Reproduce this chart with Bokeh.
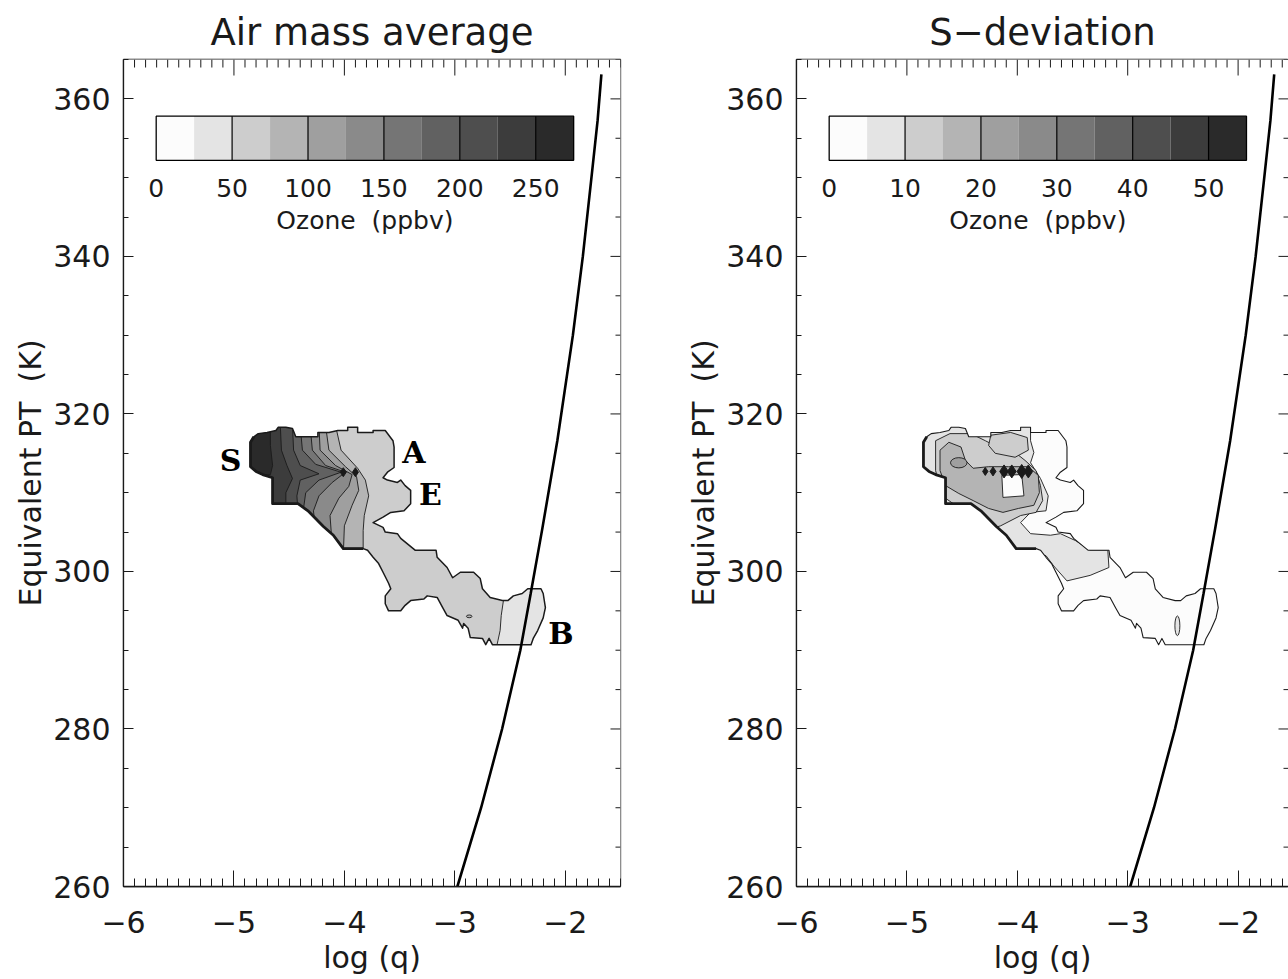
from bokeh.plotting import figure
from bokeh.layouts import row
from bokeh.models import FixedTicker, CustomJSTickFormatter, Range1d
from bokeh.core.properties import value
from bokeh.embed import file_html
from bokeh.resources import INLINE

FONT = "DejaVu Sans"
INK = "#1a1a1a"

# ---------------- axes / ticks ----------------
X_MAJOR = [-6, -5, -4, -3, -2]
X_MINOR = [round(-6 + 0.1 * i, 2) for i in range(46)]
Y_MAJOR = [260, 280, 300, 320, 340, 360]
Y_MINOR = list(range(260, 366, 5))
TITLES = ["Air mass average", "S\u2212deviation"]
X_LABEL = "log (q)"
Y_LABEL = "Equivalent PT\u00a0 (K)"

# ---------------- colour scale ----------------
SHADES = ["#fcfcfc", "#e4e4e4", "#cdcdcd", "#b4b4b4", "#9f9f9f", "#8a8a8a",
          "#757575", "#616161", "#4e4e4e", "#3c3c3c", "#2a2a2a"]
CB_LABELS_L = [0, 50, 100, 150, 200, 250]
CB_MAX_L = 275
CB_LABELS_R = [0, 10, 20, 30, 40, 50]
CB_MAX_R = 55
CB_TITLE = "Ozone\u00a0 (ppbv)"

# ---------------- saturation curve ----------------
CURVE_THETA = [260, 270, 280, 290, 297.2, 305.5, 316.6, 330, 340, 350, 357.3, 363.1]
CURVE_LOGQ = [-2.977, -2.762, -2.572, -2.407, -2.313, -2.207, -2.072, -1.931,
              -1.841, -1.763, -1.707, -1.673]

# ---------------- air-mass outline (log q, theta_e) ----------------
OUT_X = [-4.85, -4.85, -4.82, -4.78, -4.70, -4.62, -4.60, -4.53, -4.47, -4.44,
         -4.24, -4.24, -4.14, -4.06, -3.97, -3.97, -3.88, -3.88, -3.74, -3.74,
         -3.63, -3.56, -3.55, -3.55, -3.61, -3.65, -3.61, -3.52, -3.49, -3.45,
         -3.40, -3.40, -3.46, -3.58, -3.65, -3.74, -3.65, -3.63, -3.52, -3.49,
         -3.36, -3.17, -3.16, -3.07, -3.02, -2.95, -2.83, -2.77, -2.75, -2.68,
         -2.57, -2.52, -2.47, -2.39, -2.34, -2.22, -2.20, -2.18, -2.20, -2.25,
         -2.29, -2.31, -2.66, -2.69, -2.72, -2.75, -2.86, -2.88, -2.92, -2.93,
         -2.97, -3.07, -3.11, -3.16, -3.25, -3.28, -3.40, -3.45, -3.49, -3.60,
         -3.63, -3.63, -3.58, -3.60, -3.65, -3.69, -3.74, -3.79, -3.83, -4.01,
         -4.10, -4.19, -4.33, -4.42, -4.65, -4.65, -4.74, -4.80]
OUT_Y = [313.3, 316.4, 317.1, 317.5, 317.65, 317.9, 318.3, 318.3, 318.15, 317.1,
         317.1, 317.65, 317.65, 317.9, 317.9, 318.3, 318.3, 317.65, 317.65, 317.9,
         317.9, 316.6, 315.8, 313.2, 312.6, 311.9, 311.6, 311.3, 311.6, 310.9,
         310.3, 308.6, 307.7, 307.5, 306.9, 306.2, 305.6, 305.0, 304.8, 304.2,
         302.7, 302.7, 301.8, 300.5, 299.2, 299.9, 299.9, 299.1, 297.8, 296.7,
         296.3, 296.3, 296.9, 297.2, 297.8, 297.8, 297.2, 295.4, 294.1, 292.5,
         291.5, 290.7, 290.7, 291.5, 290.7, 291.5, 291.6, 292.8, 293.4, 292.8,
         293.8, 294.4, 295.4, 296.7, 296.9, 296.5, 296.3, 295.7, 295.0, 295.0,
         295.9, 296.9, 297.8, 298.5, 299.9, 301.0, 301.8, 302.7, 302.9, 302.9,
         304.6, 305.7, 307.7, 308.6, 308.6, 311.9, 312.3, 312.7]

# ---------------- left panel: ozone contour lines (darker side = left) ----------------
L_LEVELS = [75, 100, 125, 150, 175, 200, 225, 250]
C075_X = [-4.08, -4.03, -3.88, -3.81, -3.78, -3.82, -3.83, -3.83]
C075_Y = [318.5, 315.4, 313.1, 311.6, 309.6, 307.1, 305.2, 302.0]
C100_X = [-4.17, -4.14, -3.99, -3.89, -3.87, -3.93, -4.00, -4.01]
C100_Y = [318.5, 315.4, 313.3, 312.05, 310.3, 308.4, 305.8, 302.0]
C125_X = [-4.23, -4.22, -4.08, -3.93, -3.96, -4.05, -4.13, -4.11]
C125_Y = [318.5, 315.4, 313.45, 312.3, 310.8, 309.3, 307.1, 303.3]
C150_X = [-4.31, -4.29, -4.17, -3.99, -4.11, -4.23, -4.28, -4.26]
C150_Y = [318.5, 315.4, 313.45, 312.6, 311.3, 309.6, 307.7, 305.2]
C175_X = [-4.40, -4.38, -4.26, -4.03, -4.23, -4.35, -4.37, -4.35]
C175_Y = [318.5, 315.4, 313.6, 312.6, 311.6, 310.0, 308.0, 306.5]
C200_X = [-4.47, -4.46, -4.40, -4.23, -4.40, -4.43, -4.42]
C200_Y = [318.5, 315.4, 313.45, 312.4, 311.6, 309.6, 307.5]
C225_X = [-4.58, -4.57, -4.52, -4.47, -4.53, -4.53]
C225_Y = [318.5, 315.4, 313.45, 311.8, 310.0, 307.5]
C250_X = [-4.67, -4.67, -4.65, -4.67, -4.94]
C250_Y = [318.5, 316.0, 313.45, 312.3, 312.05]
L_LINES_X = [C075_X, C100_X, C125_X, C150_X, C175_X, C200_X, C225_X, C250_X]
L_LINES_Y = [C075_Y, C100_Y, C125_Y, C150_Y, C175_Y, C200_Y, C225_Y, C250_Y]
# boundary of the lighter (25-50 ppbv) tip, lighter side = right
CB050_X = [-2.55, -2.56, -2.58, -2.59, -2.61, -2.63]
CB050_Y = [298.2, 296.3, 294.4, 292.5, 291.2, 289.9]
L_SPOT_X, L_SPOT_Y = [-2.87], [294.3]
L_DIAM_X = [-4.01, -3.90]
L_DIAM_Y = [312.6, 312.6]
LETTERS = ["S", "A", "E", "B"]
LETTER_X = [-5.03, -3.37, -3.22, -2.04]
LETTER_Y = [314.1, 315.1, 309.8, 292.1]

# ---------------- right panel: standard deviation regions ----------------
R1_X = [-4.94, -3.88, -3.88, -3.85, -3.88, -3.79, -3.72, -3.74, -3.88, -3.97, -3.88,
        -3.70, -3.61, -3.47, -3.34, -3.18, -3.17, -3.34, -3.55, -3.67, -3.74, -3.88,
        -4.06, -4.24, -4.42, -4.94]
R1_Y = [319.2, 319.2, 316.6, 315.1, 313.8, 311.8, 309.6, 307.7, 307.5, 306.2, 304.8,
        304.6, 304.8, 303.9, 302.7, 302.7, 300.5, 299.5, 298.8, 300.7, 302.0, 302.4,
        302.9, 303.3, 303.9, 303.9]
R2_X = [-4.74, -4.61, -4.42, -4.29, -4.15, -4.02, -3.93, -3.83, -3.79, -3.77, -3.83,
        -3.97, -4.15, -4.29, -4.42, -4.56, -4.68, -4.74]
R2_Y = [316.6, 317.5, 317.5, 316.6, 315.6, 315.1, 314.1, 312.8, 310.9, 309.0, 307.5,
        307.1, 305.8, 305.2, 306.5, 308.4, 309.6, 312.8]
R2B_X = [-4.24, -4.06, -3.91, -3.90, -4.02, -4.20, -4.26]
R2B_Y = [317.3, 317.65, 317.0, 315.4, 314.5, 315.0, 316.0]
R3_X = [-4.70, -4.62, -4.51, -4.47, -4.40, -4.26, -4.08, -3.90, -3.81, -3.80, -3.85,
        -3.99, -4.13, -4.26, -4.40, -4.53, -4.65, -4.70]
R3_Y = [315.4, 316.4, 315.8, 314.1, 313.1, 313.3, 313.3, 313.3, 312.2, 310.0, 308.4,
        308.0, 307.5, 308.0, 309.0, 309.9, 310.9, 312.8]
R0_X = [-4.14, -3.96, -3.94, -4.13]
R0_Y = [312.2, 312.3, 309.6, 309.4]
R_SPOT_X, R_SPOT_Y = [-4.53, -2.55], [313.8, 293.1]
R_DIAM_X = [-4.29, -4.22, -4.12, -4.05, -3.96, -3.90]
R_DIAM_Y = [312.7, 312.7, 312.7, 312.7, 312.7, 312.7]

# colour-bar placement inside the frame (log q / theta units)
CB_X0, CB_X1, CB_Y0, CB_Y1 = -5.704, -1.924, 352.2, 357.8
CB_NUM_Y, CB_TITLE_Y = 348.7, 344.5

# tick lengths in pixels and the pixel scale of the frames
X_TICK_MAJ, X_TICK_MIN, Y_TICK_MAJ, Y_TICK_MIN = 16, 8, 10, 5
PX_PER_K = 827 / 105.0
PX_PER_DEX = 110.4


def style_axis(ax, is_x):
    ax.ticker = FixedTicker(ticks=X_MAJOR if is_x else Y_MAJOR,
                            minor_ticks=X_MINOR if is_x else Y_MINOR)
    ax.major_tick_in = X_TICK_MAJ if is_x else Y_TICK_MAJ
    ax.minor_tick_in = X_TICK_MIN if is_x else Y_TICK_MIN
    ax.major_tick_out = 0
    ax.minor_tick_out = 0
    ax.axis_line_color = INK
    ax.axis_line_width = 1.3
    ax.major_tick_line_color = INK
    ax.minor_tick_line_color = INK
    ax.major_tick_line_width = 1
    ax.minor_tick_line_width = 1
    ax.formatter = CustomJSTickFormatter(
        code="return (tick < 0 ? '\u2212' : '') + Math.abs(tick).toFixed(0);")
    ax.major_label_text_font = FONT
    ax.major_label_text_font_size = "30px"
    ax.major_label_text_color = INK
    ax.axis_label_text_font = FONT
    ax.axis_label_text_font_size = "30px"
    ax.axis_label_text_font_style = "normal"
    ax.axis_label_text_color = INK
    if is_x:
        ax.axis_label = X_LABEL
        ax.major_label_standoff = 24
        ax.axis_label_standoff = 4
    else:
        ax.axis_label = Y_LABEL
        ax.major_label_standoff = 13
        ax.axis_label_standoff = 2


def make_panel(title, width, mleft, mright, xend, base, regions, spots, diam,
               cb_labels, cb_max, letters, outline_w):
    p = figure(width=width, height=979, x_range=Range1d(-6, xend),
               y_range=Range1d(260, 365), output_backend="svg",
               toolbar_location=None, min_border_left=mleft,
               min_border_right=mright, min_border_top=59, min_border_bottom=93,
               background_fill_color="white", border_fill_color="white",
               outline_line_color=INK, outline_line_width=1.3, title=title)
    p.grid.visible = False
    p.title.text_font = FONT
    p.title.text_font_size = "37px"
    p.title.text_font_style = "normal"
    p.title.text_color = INK
    p.title.align = "center"
    p.title.standoff = 12
    style_axis(p.xaxis[0], True)
    style_axis(p.yaxis[0], False)

    # filled contours
    p.patch(OUT_X, OUT_Y, fill_color=base, line_color=None)
    for xs, ys, col in regions:
        p.patch(xs, ys, fill_color=col, line_color=INK, line_width=0.9)
    for (sx, sy, w, h, col) in spots:
        p.ellipse(x=[sx], y=[sy], width=w, height=h, fill_color=col,
                  line_color=INK, line_width=0.9)
    # white mask outside the air mass
    p.multi_polygons(xs=[[[[-7, -1, -1, -7], OUT_X]]],
                     ys=[[[[250, 250, 375, 375], OUT_Y]]],
                     fill_color="white", line_color=None)
    p.line(OUT_X + [OUT_X[0]], OUT_Y + [OUT_Y[0]], line_color=INK,
           line_width=outline_w, line_join="round")
    thick_x = OUT_X[88:] + OUT_X[:3]
    thick_y = OUT_Y[88:] + OUT_Y[:3]
    p.line(thick_x, thick_y, line_color=INK, line_width=2.8, line_join="round")
    p.scatter(diam[0], diam[1], marker="diamond", size=diam[2], color=INK)

    # saturation curve
    p.line(CURVE_LOGQ, CURVE_THETA, line_color="black", line_width=2.6)

    # mirrored tick marks on the top and right frame edges
    y_top = 365.0
    xmaj = [v for v in X_MINOR if abs(v - round(v)) < 1e-6]
    xmin = [v for v in X_MINOR if abs(v - round(v)) >= 1e-6]
    p.segment(x0=xmin, y0=y_top, x1=xmin, y1=y_top - X_TICK_MIN / PX_PER_K,
              line_color=INK, line_width=1)
    p.segment(x0=xmaj, y0=y_top, x1=xmaj, y1=y_top - X_TICK_MAJ / PX_PER_K,
              line_color=INK, line_width=1)
    ymaj = [v for v in Y_MINOR if v in Y_MAJOR]
    ymin = [v for v in Y_MINOR if v not in Y_MAJOR]
    p.segment(x0=xend, y0=ymin, x1=xend - Y_TICK_MIN / PX_PER_DEX, y1=ymin,
              line_color=INK, line_width=1)
    p.segment(x0=xend, y0=ymaj, x1=xend - Y_TICK_MAJ / PX_PER_DEX, y1=ymaj,
              line_color=INK, line_width=1)

    # colour bar
    n = len(SHADES)
    span = CB_X1 - CB_X0
    lefts = [CB_X0 + span * i / n for i in range(n)]
    rights = [CB_X0 + span * (i + 1) / n for i in range(n)]
    p.quad(left=lefts, right=rights, bottom=CB_Y0, top=CB_Y1,
           fill_color=SHADES, line_color=None)
    xs_div = [CB_X0 + span * v / cb_max for v in cb_labels]
    p.segment(x0=xs_div[1:], y0=CB_Y0, x1=xs_div[1:], y1=CB_Y1,
              line_color="black", line_width=1.2)
    p.quad(left=[CB_X0], right=[CB_X1], bottom=[CB_Y0], top=[CB_Y1],
           fill_color=None, line_color="black", line_width=1.3)
    p.text(x=xs_div, y=[CB_NUM_Y] * len(xs_div), text=[str(v) for v in cb_labels],
           text_font=value(FONT), text_font_size="25px", text_color=INK,
           text_align="center", text_baseline="middle")
    p.text(x=[(CB_X0 + CB_X1) / 2], y=[CB_TITLE_Y], text=[CB_TITLE],
           text_font=value(FONT), text_font_size="25px", text_color=INK,
           text_align="center", text_baseline="middle")
    if letters:
        p.text(x=LETTER_X, y=LETTER_Y, text=LETTERS, text_font=value("DejaVu Serif"),
               text_font_style="bold", text_font_size="30px", text_color="black",
               text_align="center", text_baseline="middle")
    return p


FAR_LEFT, FAR_RIGHT = -5.1, -2.0
left_regions = [(CB050_X + [FAR_RIGHT, FAR_RIGHT],
                 CB050_Y + [CB050_Y[-1], CB050_Y[0]], SHADES[1])]
for lev, lx, ly in zip(L_LEVELS, L_LINES_X, L_LINES_Y):
    left_regions.append((lx + [FAR_LEFT, FAR_LEFT], ly + [ly[-1], ly[0]],
                         SHADES[lev // 25]))
left_spots = [(L_SPOT_X[0], L_SPOT_Y[0], 0.05, 0.35, SHADES[3])]

right_regions = [(R1_X, R1_Y, SHADES[1]), (R2_X, R2_Y, SHADES[2]),
                 (R2B_X, R2B_Y, SHADES[2]), (R3_X, R3_Y, SHADES[3]),
                 (R0_X, R0_Y, SHADES[0])]
right_spots = [(R_SPOT_X[0], R_SPOT_Y[0], 0.15, 1.3, SHADES[4]),
               (R_SPOT_X[1], R_SPOT_Y[1], 0.045, 2.5, SHADES[1])]

p1 = make_panel(TITLES[0], 670, 123, 50, -1.5, SHADES[2], left_regions, left_spots,
                (L_DIAM_X, L_DIAM_Y, 9), CB_LABELS_L, CB_MAX_L, True, 1.5)
p2 = make_panel(TITLES[1], 618, 126, 0, -6 + 492 / PX_PER_DEX, SHADES[0], right_regions,
                right_spots, (R_DIAM_X, R_DIAM_Y, [8, 9, 13, 13, 14, 13]),
                CB_LABELS_R, CB_MAX_R, False, 1.1)

layout = row(p1, p2, spacing=0)
open("out.html", "w").write(file_html(layout, INLINE))
